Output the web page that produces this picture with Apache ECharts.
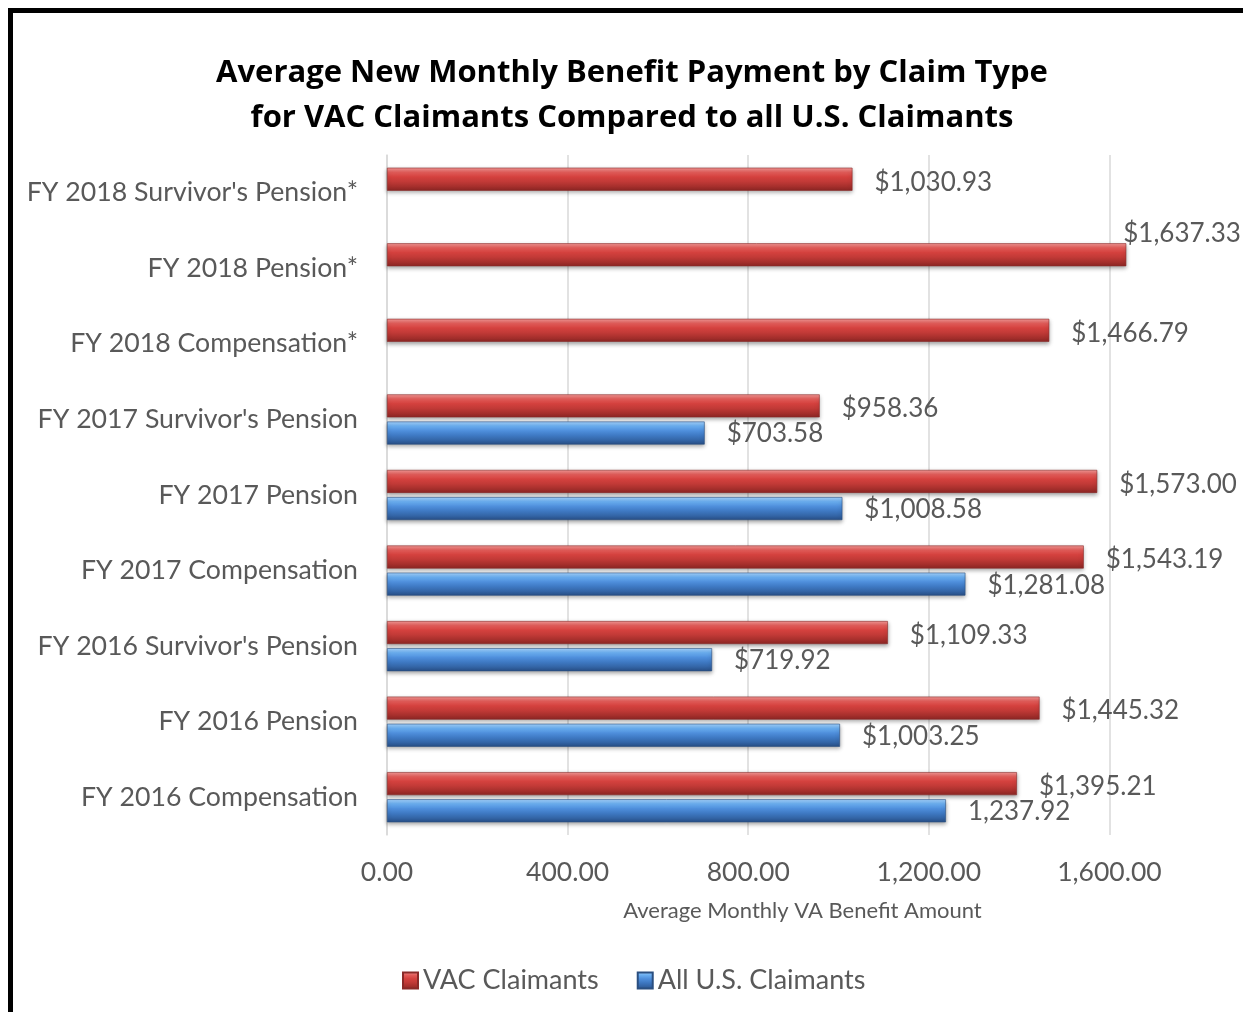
<!DOCTYPE html>
<html><head><meta charset="utf-8">
<script src="https://cdn.jsdelivr.net/npm/echarts@6/dist/echarts.min.js"></script>
<style>html,body{margin:0;padding:0;background:#fff;} #c{width:1243px;height:1012px;}</style>
</head><body><div id="c"></div>
<script>
const categories = ["FY 2016 Compensation","FY 2016 Pension","FY 2016 Survivor's Pension","FY 2017 Compensation","FY 2017 Pension","FY 2017 Survivor's Pension","FY 2018 Compensation*","FY 2018 Pension*","FY 2018 Survivor's Pension*"];
const vacValues = [1395.21, 1445.32, 1109.33, 1543.19, 1573.00, 958.36, 1466.79, 1637.33, 1030.93];
const usValues = [1237.92, 1003.25, 719.92, 1281.08, 1008.58, 703.58, null, null, null];
const usLabelHasDollar = [false, true, true, true, true, true, true, true, true];
const seriesNames = ["VAC Claimants", "All U.S. Claimants"];
const axisTitle = "Average Monthly VA Benefit Amount";
const chartTitle = "Average New Monthly Benefit Payment by Claim Type\nfor VAC Claimants Compared to all U.S. Claimants";

const FONT = 'Lato';
const GRAY = '#595959';
function fmt(v) {
  return v.toLocaleString('en-US', {minimumFractionDigits: 2, maximumFractionDigits: 2});
}
function grad(stops) {
  return new echarts.graphic.LinearGradient(0, 0, 0, 1, stops.map((c, i) => ({offset: i / (stops.length - 1), color: c})));
}
const redGrad = grad(['#f59a98', '#e25c59', '#d4413e', '#c23a37', '#a8302d', '#8c2624']);
const blueGrad = grad(['#a6d4ff', '#6aaef0', '#4f8fdc', '#3f7ac4', '#3466a8', '#284f86']);

const chart = echarts.init(document.getElementById('c'), null, {renderer: 'canvas'});
chart.setOption({
  animation: false,
  backgroundColor: '#fff',
  textStyle: {fontFamily: FONT},
  title: {
    text: chartTitle,
    left: 627, top: 46, textAlign: 'center',
    textStyle: {fontFamily: 'Open Sans', fontWeight: 'bold', fontSize: 31, lineHeight: 45, color: '#000'}
  },
  graphic: [{
    type: 'polyline', silent: true,
    shape: {points: [[10.5, 1012], [10.5, 10.5], [1243, 10.5]]},
    style: {stroke: '#000', lineWidth: 5, fill: null}
  }],
  legend: {
    data: seriesNames,
    left: 397, top: 962,
    itemWidth: 15, itemHeight: 16, itemGap: 38,
    icon: 'rect',
    textStyle: {fontFamily: FONT, fontSize: 27, color: GRAY}
  },
  grid: {left: 387, top: 155, width: 903, height: 680, containLabel: false, outerBoundsMode: 'none'},
  xAxis: {
    type: 'value', min: 0, max: 2000, interval: 400,
    axisLine: {show: false}, axisTick: {show: false},
    splitLine: {lineStyle: {color: '#d9d9d9', width: 1.5}},
    axisLabel: {fontFamily: FONT, fontSize: 26.5, color: GRAY, margin: 24, showMaxLabel: false, formatter: v => fmt(v)},
    name: axisTitle, nameLocation: 'middle', nameGap: 65,
    nameTextStyle: {fontFamily: FONT, fontSize: 22, color: GRAY, padding: [0, 72, 0, 0]}
  },
  yAxis: {
    type: 'category', data: categories,
    axisLine: {show: true, lineStyle: {color: '#d9d9d9', width: 1.5}},
    axisTick: {show: false},
    axisLabel: {fontFamily: FONT, fontSize: 26.7, color: GRAY, margin: 29}
  },
  series: [
    {
      name: seriesNames[0], type: 'bar', data: vacValues,
      barWidth: 23, barGap: '18%',
      itemStyle: {color: redGrad, borderColor: '#8a2a28', borderWidth: 0.6, shadowColor: 'rgba(0,0,0,0.35)', shadowBlur: 4, shadowOffsetY: 2},
      label: {show: true, position: 'right', distance: 22, fontFamily: FONT, fontSize: 26, color: GRAY,
        formatter: p => '$' + fmt(p.value)},
      labelLayout: p => p.dataIndex === 7 ? {dx: -25, dy: -21} : {dy: 3}
    },
    {
      name: seriesNames[1], type: 'bar', data: usValues,
      barWidth: 23, barGap: '18%',
      itemStyle: {color: blueGrad, borderColor: '#2a4f80', borderWidth: 0.6, shadowColor: 'rgba(0,0,0,0.35)', shadowBlur: 4, shadowOffsetY: 2},
      label: {show: true, position: 'right', distance: 22, fontFamily: FONT, fontSize: 26, color: GRAY,
        formatter: p => (usLabelHasDollar[p.dataIndex] ? '$' : '') + fmt(p.value)},
      labelLayout: {dy: 1}
    }
  ]
});
</script></body></html>
